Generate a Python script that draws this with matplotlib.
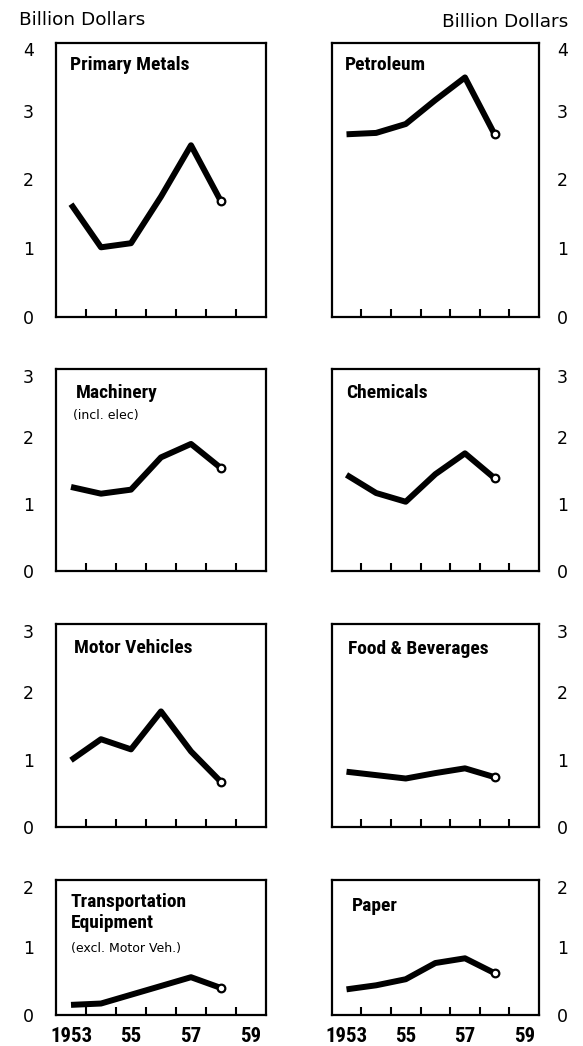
import matplotlib
matplotlib.use("Agg")
import os
import matplotlib.pyplot as plt
from matplotlib import font_manager
from matplotlib.font_manager import FontProperties
from matplotlib.ticker import FixedLocator, NullFormatter

# ---------------- data ----------------
years = [1953, 1954, 1955, 1956, 1957, 1958]
primary_metals = [1.64, 1.01, 1.07, 1.75, 2.50, 1.68]
petroleum = [2.66, 2.68, 2.81, 3.16, 3.49, 2.66]
machinery = [1.25, 1.15, 1.21, 1.69, 1.89, 1.53]
chemicals = [1.43, 1.16, 1.03, 1.44, 1.75, 1.38]
motor_vehicles = [0.99, 1.30, 1.15, 1.71, 1.12, 0.67]
food_beverages = [0.82, 0.77, 0.72, 0.80, 0.87, 0.74]
transport_equipment = [0.15, 0.17, 0.30, 0.43, 0.56, 0.40]
paper = [0.38, 0.44, 0.53, 0.77, 0.84, 0.62]

titles = ["Primary Metals", "Petroleum", "Machinery", "Chemicals",
          "Motor Vehicles", "Food & Beverages", "Transportation\nEquipment", "Paper"]
subtitles = ["", "", "(incl. elec)", "", "", "", "(excl. Motor Veh.)", ""]
series = [primary_metals, petroleum, machinery, chemicals,
          motor_vehicles, food_beverages, transport_equipment, paper]
row_ymax = [4, 3, 3, 2]
xtick_years = [1953, 1955, 1957, 1959]
xtick_labels = ["1953", "55", "57", "59"]
unit_label = "Billion Dollars"

# ---------------- fonts: find a condensed / narrow heavy face ----------------
def pick_condensed():
    prefs = ["notosans-condensedextrabold.", "liberationsansnarrow-bold.",
             "notosans-condensedbold.", "robotocondensed-bold.",
             "opensans-condensedbold.", "dejavusanscondensed-bold."]
    files = {}
    for f in font_manager.fontManager.ttflist:
        files[os.path.basename(f.fname).lower()] = f.fname
    for p in prefs:
        for k, v in files.items():
            if k.startswith(p):
                return FontProperties(fname=v), True
    for k, v in files.items():
        if ("condensed" in k or "narrow" in k) and "bold" in k and "italic" not in k \
                and "oblique" not in k and "semi" not in k and "extra" not in k:
            return FontProperties(fname=v), True
    return FontProperties(family="Roboto", weight="bold"), False

TFP, narrow_ok = pick_condensed()
tsize = 14 if narrow_ok else 12
xsize = 15 if narrow_ok else 12.5

W, H = 583, 1046
fig = plt.figure(figsize=(W / 100, H / 100), dpi=100)

cols = [(56, 266), (331.7, 539)]
rows = [(42.5, 316.5), (369.3, 571), (624, 827.3), (880, 1015)]

title_dx = [14, 13.5, 20, 14.5, 18, 16.5, 14.5, 20]
title_dy = [14, 13, 14.5, 14.5, 15, 16, 13, 17]

for i in range(8):
    r, c = divmod(i, 2)
    x0, x1 = cols[c]
    top, bot = rows[r]
    ax = fig.add_axes([x0 / W, 1 - bot / H, (x1 - x0) / W, (bot - top) / H])
    ymax = row_ymax[r]
    ax.set_xlim(1952.5, 1959.5)
    ax.set_ylim(0, ymax)
    for s in ax.spines.values():
        s.set_linewidth(1.6)
        s.set_color("black")

    vals = series[i]
    ax.plot(years, vals, color="black", lw=4.3, solid_capstyle="butt",
            solid_joinstyle="round", zorder=3)
    ax.plot(years[-1:], vals[-1:], marker="o", ms=5.5, mfc="white", mec="black",
            mew=1.6, ls="none", zorder=4)

    ax.yaxis.set_major_locator(FixedLocator(list(range(0, ymax + 1))))
    ax.yaxis.set_minor_locator(FixedLocator(list(range(1, ymax))))
    ax.tick_params(axis="y", which="minor", direction="in", length=8.5, width=1.5,
                   left=True, right=True)
    ax.tick_params(axis="y", which="major", length=0, labelsize=12.5,
                   left=(c == 0), right=(c == 1), labelleft=(c == 0),
                   labelright=(c == 1), pad=16 if c == 0 else 13)
    ylabels = ax.get_yticklabels()
    ylabels[-1].set_va("top")

    ax.xaxis.set_major_locator(FixedLocator(xtick_years))
    ax.xaxis.set_minor_locator(FixedLocator([y + 0.5 for y in years]))
    ax.tick_params(axis="x", which="minor", direction="in", length=6, width=1.5,
                   bottom=True, top=False)
    ax.tick_params(axis="x", which="major", length=0, pad=8.5)
    if r == 3:
        ax.set_xticklabels(xtick_labels)
        for lab in ax.get_xticklabels():
            lab.set_fontproperties(TFP)
            lab.set_fontsize(xsize)
    else:
        ax.xaxis.set_major_formatter(NullFormatter())

    ax.annotate(titles[i], xy=(0, 1), xycoords="axes fraction",
                xytext=(title_dx[i] * 0.72, -title_dy[i] * 0.72),
                textcoords="offset points", ha="left", va="top",
                fontproperties=TFP, fontsize=tsize, linespacing=1.25)
    if subtitles[i]:
        sub_dy = 45.7 if r == 1 else 68.3
        ax.annotate(subtitles[i], xy=(0, 1), xycoords="axes fraction",
                    xytext=((17 if r == 1 else 14.7) * 0.72, -sub_dy * 0.72),
                    textcoords="offset points", ha="left", va="center",
                    fontsize=9, family="DejaVu Sans")

fig.text(19 / W, 1 - 20 / H, unit_label, ha="left", va="center", fontsize=13.3)
fig.text(568.3 / W, 1 - 21.7 / H, unit_label, ha="right", va="center", fontsize=13.3)

fig.savefig("out.png", dpi=100)
